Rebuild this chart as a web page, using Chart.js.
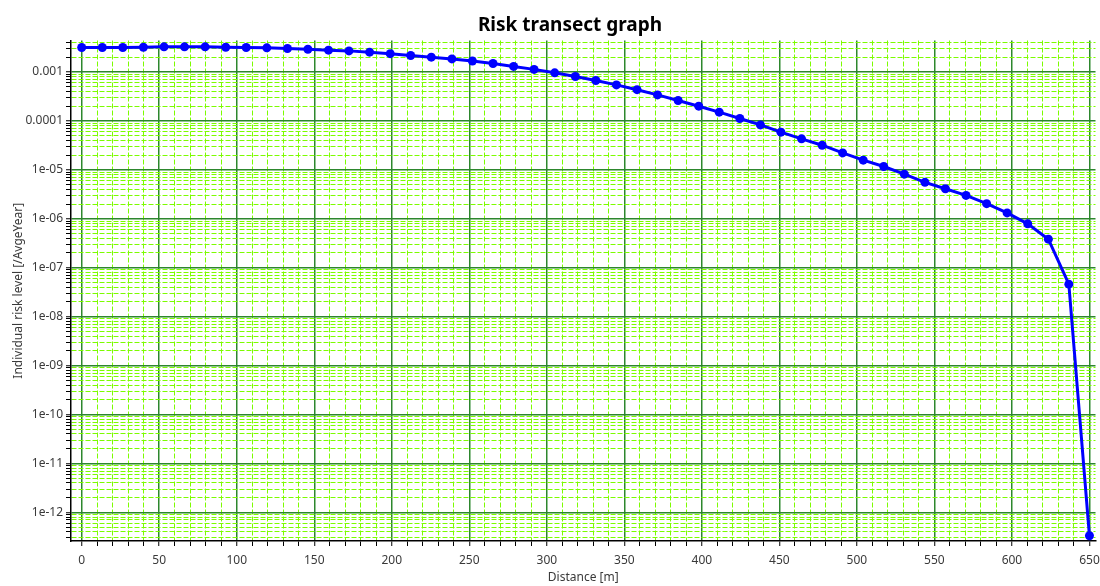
<!DOCTYPE html>
<html>
<head>
<meta charset="utf-8">
<script src="https://cdn.jsdelivr.net/npm/chart.js@4"></script>
<style>
  html, body { margin: 0; padding: 0; background: #ffffff; }
  #wrap { width: 1100px; height: 586px; }
</style>
</head>
<body>
<div id="wrap"><canvas id="c" width="1100" height="586"></canvas></div>
<script>
// ---- Data ----
const distances = [0, 13.3, 26.5, 39.8, 53.1, 66.3, 79.6, 92.9, 106.1, 119.4,
  132.7, 145.9, 159.2, 172.4, 185.7, 199.0, 212.2, 225.5, 238.8, 252.0,
  265.3, 278.6, 291.8, 305.1, 318.4, 331.6, 344.9, 358.2, 371.4, 384.7,
  398.0, 411.2, 424.5, 437.8, 451.0, 464.3, 477.6, 490.8, 504.1, 517.3,
  530.6, 543.9, 557.1, 570.4, 583.7, 596.9, 610.2, 623.5, 636.7, 650];

const riskLevels = [3.17e-3, 3.17e-3, 3.17e-3, 3.21e-3, 3.26e-3, 3.26e-3, 3.26e-3, 3.21e-3, 3.17e-3, 3.11e-3,
  3.02e-3, 2.92e-3, 2.79e-3, 2.70e-3, 2.54e-3, 2.37e-3, 2.17e-3, 2.01e-3, 1.85e-3, 1.68e-3,
  1.49e-3, 1.30e-3, 1.13e-3, 9.6e-4, 8.1e-4, 6.7e-4, 5.45e-4, 4.35e-4, 3.4e-4, 2.62e-4,
  2.0e-4, 1.51e-4, 1.12e-4, 8.3e-5, 5.89e-5, 4.3e-5, 3.19e-5, 2.22e-5, 1.58e-5, 1.17e-5,
  8.17e-6, 5.55e-6, 4.12e-6, 3.0e-6, 2.04e-6, 1.32e-6, 7.87e-7, 3.83e-7, 4.61e-8, 3.32e-13];

const yMajorTicks = [1e-12, 1e-11, 1e-10, 1e-9, 1e-8, 1e-7, 1e-6, 1e-5, 1e-4, 1e-3];
const yTickLabels = ['1e-12', '1e-11', '1e-10', '1e-09', '1e-08', '1e-07', '1e-06', '1e-05', '0.0001', '0.001'];
const yMinorMultipliers = [2, 3, 4, 5, 6, 7, 8, 9];

const xMajorTicks = [0, 50, 100, 150, 200, 250, 300, 350, 400, 450, 500, 550, 600, 650];
const xTickLabels = ['0', '50', '100', '150', '200', '250', '300', '350', '400', '450', '500', '550', '600', '650'];
const xMinorStep = 10;

const chartTitle = 'Risk transect graph';
const xTitle = 'Distance [m]';
const yTitle = 'Individual risk level [/AvgeYear]';

// ---- Styles ----
const MAJOR_GRID = 'rgb(45,135,45)';
const MINOR_GRID = '#7cfc00';
const TEXT = '#3a3a3a';
const FONT = "'Noto Sans', 'Open Sans', 'DejaVu Sans', sans-serif";

Chart.defaults.font.family = FONT;
Chart.defaults.color = TEXT;

const gridColor = ctx => (ctx.tick && ctx.tick.major) ? MAJOR_GRID : MINOR_GRID;
const gridWidth = ctx => (ctx.tick && ctx.tick.major) ? 1.5 : 1;
const gridDash = ctx => (ctx.tick && !ctx.tick.major) ? [5, 2] : [];

const titlePlugin = {
  id: 'topTitle',
  afterDraw(chart) {
    const ctx = chart.ctx;
    ctx.save();
    ctx.font = "bold 19px " + FONT;
    ctx.fillStyle = '#000000';
    ctx.textAlign = 'center';
    ctx.textBaseline = 'alphabetic';
    ctx.fillText(chartTitle, 570, 31);
    ctx.restore();
  }
};

new Chart(document.getElementById('c'), {
  type: 'line',
  data: {
    datasets: [{
      data: distances.map((d, i) => ({ x: d, y: riskLevels[i] })),
      borderColor: '#0000ff',
      backgroundColor: '#0000ff',
      borderWidth: 3,
      pointRadius: 4.5,
      pointBackgroundColor: '#0000ff',
      pointBorderColor: '#0000ff',
      pointBorderWidth: 0,
      tension: 0,
      fill: false
    }]
  },
  plugins: [titlePlugin],
  options: {
    responsive: false,
    animation: false,
    layout: { padding: { left: 0, right: 0, top: 40.5, bottom: 0 } },
    plugins: {
      legend: { display: false },
      tooltip: { enabled: false },
      title: { display: false }
    },
    scales: {
      x: {
        type: 'linear',
        min: -6.9,
        max: 653.9,
        bounds: 'data',
        afterBuildTicks: scale => {
          const t = [];
          for (let v = 0; v <= 650; v += xMinorStep) {
            t.push({ value: v, major: xMajorTicks.includes(v) });
          }
          scale.ticks = t;
        },
        afterFit: scale => {
          scale.height = 45;
          scale.paddingLeft = 0;
          scale.paddingRight = 0;
        },
        ticks: {
          autoSkip: false,
          maxRotation: 0,
          padding: 7,
          color: TEXT,
          font: { size: 12 },
          callback: (value) => {
            const idx = xMajorTicks.indexOf(value);
            return idx >= 0 ? xTickLabels[idx] : '';
          }
        },
        grid: {
          color: gridColor,
          lineWidth: gridWidth,
          borderDash: gridDash,
          tickColor: '#000000',
          tickWidth: 1,
          tickLength: 5,
          drawTicks: true
        },
        border: { display: true, color: '#000000', width: 1.5, dash: gridDash },
        title: {
          display: true,
          text: xTitle,
          color: TEXT,
          font: { size: 12 },
          padding: { top: 0, bottom: 1 }
        }
      },
      y: {
        type: 'logarithmic',
        min: 2.6e-13,
        max: 4.4e-3,
        bounds: 'data',
        afterBuildTicks: scale => {
          const t = [];
          for (let k = 0; k < yMajorTicks.length; k++) {
            const base = yMajorTicks[k] / 10;
            for (const m of yMinorMultipliers) {
              const v = parseFloat((m * base).toPrecision(3));
              if (v >= scale.min && v <= scale.max) t.push({ value: v, major: false });
            }
            if (yMajorTicks[k] >= scale.min && yMajorTicks[k] <= scale.max) {
              t.push({ value: yMajorTicks[k], major: true });
            }
          }
          const top = yMajorTicks[yMajorTicks.length - 1];
          for (const m of yMinorMultipliers) {
            const v = parseFloat((m * top).toPrecision(3));
            if (v >= scale.min && v <= scale.max) t.push({ value: v, major: false });
          }
          scale.ticks = t;
        },
        afterFit: scale => {
          scale.width = 71;
          scale.paddingTop = 0;
          scale.paddingBottom = 0;
        },
        ticks: {
          autoSkip: false,
          padding: 3,
          color: TEXT,
          font: { size: 12 },
          callback: (value, index, ticks) => {
            if (!ticks[index] || !ticks[index].major) return '';
            const idx = yMajorTicks.findIndex(m => Math.abs(Math.log10(m) - Math.log10(value)) < 1e-6);
            return idx >= 0 ? yTickLabels[idx] : '';
          }
        },
        grid: {
          color: gridColor,
          lineWidth: gridWidth,
          borderDash: gridDash,
          tickColor: '#000000',
          tickWidth: 1,
          tickLength: 5,
          drawTicks: true
        },
        border: { display: true, color: '#000000', width: 1.5, dash: gridDash },
        title: {
          display: true,
          text: yTitle,
          color: TEXT,
          font: { size: 12 },
          padding: { top: 11, bottom: 0 }
        }
      }
    }
  }
});
</script>
</body>
</html>
